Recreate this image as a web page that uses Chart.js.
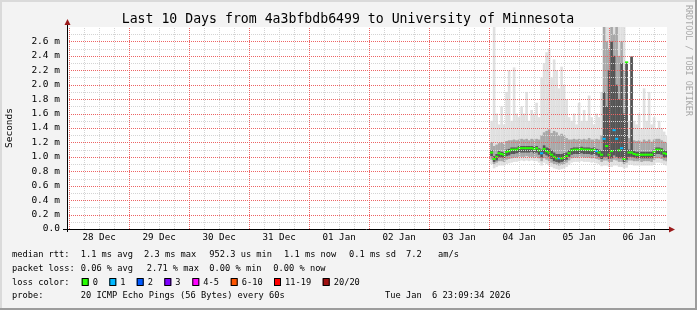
<!DOCTYPE html>
<html>
<head>
<meta charset="utf-8">
<script src="https://cdn.jsdelivr.net/npm/chart.js@4.4.1/dist/chart.umd.min.js"></script>
<style>
  html, body { margin: 0; padding: 0; background: #f3f3f3; }
  #wrap { width: 697px; height: 310px; }
</style>
</head>
<body>
<div id="wrap"><canvas id="c" width="697" height="310"></canvas></div>
<script>
// hours since 28 Dec 00:00 (graph ends 06 Jan 23:09:34)
const hours = [
  169,170,171,172,173,174,175,176,177,178,179,180,181,182,183,184,185,186,187,188,189,190,191,
  192,193,194,195,196,197,198,199,200,201,202,203,204,205,206,207,208,209,210,211,212,213,214,215,
  216,217,218,219,220,221,222,223,224,225,226,227,228,229,230,231,232,233,234,235,236,237,238,239
];

// median rtt in ms
const median = [
  1.06,0.97,1.00,1.05,1.04,1.03,1.07,1.08,1.10,1.10,1.10,1.12,1.12,1.12,1.12,1.12,1.12,1.11,1.12,1.09,1.05,1.11,1.08,
  1.06,1.03,1.00,0.98,0.98,0.98,0.99,1.01,1.05,1.09,1.10,1.10,1.10,1.11,1.10,1.10,1.10,1.09,1.10,1.08,1.06,1.03,1.25,1.15,
  1.03,1.08,1.37,1.25,1.09,1.12,0.97,2.31,1.06,1.06,1.04,1.03,1.03,1.03,1.03,1.03,1.03,1.03,1.07,1.10,1.10,1.09,1.05,1.04
];

// lost pings out of 20
const lossCount = [
  0,0,0,0,0,0,0,0,0,0,0,0,0,0,0,0,0,0,0,0,1,0,0,
  0,0,0,0,1,0,0,0,0,0,0,0,0,0,0,0,0,0,0,1,0,0,1,0,
  0,0,1,1,0,1,0,0,0,0,0,0,0,0,0,0,0,0,0,0,0,0,0,0
];

// smoke: outer range (min..max ping)
const pingMin = [
  0.90,0.84,0.86,0.88,0.88,0.88,0.90,0.91,0.92,0.93,0.93,0.94,0.95,0.94,0.95,0.94,0.95,0.94,0.94,0.92,0.88,0.92,0.90,
  0.88,0.86,0.84,0.83,0.82,0.83,0.84,0.86,0.89,0.92,0.93,0.93,0.93,0.94,0.93,0.93,0.93,0.92,0.93,0.91,0.90,0.87,0.88,0.88,
  0.86,0.86,0.88,0.88,0.86,0.86,0.84,0.85,0.89,0.89,0.88,0.88,0.88,0.88,0.88,0.88,0.88,0.88,0.90,0.92,0.92,0.91,0.89,0.88
];
const pingMax = [
  1.50,2.80,1.60,1.45,1.70,1.45,1.90,2.20,1.50,2.24,1.60,1.55,1.70,1.60,1.90,1.50,1.65,1.60,1.75,1.55,2.10,2.30,2.45,
  2.50,2.10,2.35,2.20,1.95,2.25,2.00,1.80,1.55,1.50,1.60,1.45,1.75,1.50,1.65,1.50,1.85,1.55,1.45,1.60,1.55,1.90,2.80,2.80,
  2.80,2.80,2.80,2.80,2.80,2.80,2.80,2.31,1.50,2.39,1.50,1.45,1.60,1.40,1.95,1.50,1.90,1.45,1.55,1.40,1.50,1.40,1.35,1.30
];

// smoke: middle band
const bandLow = [
  0.96,0.90,0.92,0.94,0.94,0.93,0.96,0.97,0.98,0.99,0.99,1.00,1.00,1.00,1.01,1.00,1.00,0.99,1.00,0.98,0.94,0.98,0.96,
  0.94,0.92,0.90,0.89,0.88,0.89,0.90,0.92,0.95,0.98,0.99,0.99,0.99,1.00,0.99,0.99,0.99,0.98,0.99,0.97,0.96,0.93,0.95,0.95,
  0.93,0.93,0.96,0.95,0.93,0.93,0.90,0.92,0.95,0.95,0.94,0.94,0.94,0.93,0.94,0.94,0.94,0.93,0.96,0.98,0.98,0.97,0.95,0.94
];
const bandHigh = [
  1.20,1.15,1.17,1.19,1.20,1.18,1.22,1.23,1.23,1.24,1.23,1.24,1.25,1.24,1.25,1.23,1.25,1.24,1.25,1.24,1.30,1.34,1.36,
  1.38,1.33,1.36,1.34,1.30,1.32,1.30,1.26,1.24,1.24,1.25,1.24,1.25,1.24,1.25,1.24,1.26,1.24,1.24,1.25,1.24,1.30,2.80,2.60,
  2.50,2.80,2.70,2.80,2.40,2.60,2.20,2.31,1.26,2.39,1.23,1.22,1.23,1.21,1.24,1.22,1.24,1.21,1.24,1.25,1.25,1.23,1.21,1.20
];

// smoke: dark core around the median
const coreLow = [
  1.01,0.93,0.95,0.99,0.99,0.98,1.01,1.02,1.04,1.04,1.05,1.06,1.06,1.06,1.06,1.06,1.07,1.05,1.06,1.03,0.99,1.04,1.02,
  1.00,0.97,0.94,0.93,0.92,0.93,0.94,0.96,1.00,1.03,1.04,1.04,1.04,1.05,1.04,1.04,1.04,1.03,1.04,1.02,1.00,0.97,1.00,1.00,
  0.97,0.98,1.02,1.00,0.98,0.98,0.93,0.96,1.00,1.00,0.99,0.98,0.98,0.98,0.98,0.98,0.98,0.98,1.01,1.04,1.04,1.03,0.99,0.99
];
const coreHigh = [
  1.09,1.01,1.04,1.08,1.07,1.06,1.10,1.11,1.13,1.13,1.13,1.15,1.15,1.15,1.15,1.15,1.15,1.14,1.15,1.12,1.10,1.16,1.13,
  1.12,1.09,1.06,1.04,1.04,1.04,1.05,1.06,1.09,1.12,1.13,1.13,1.13,1.14,1.13,1.13,1.13,1.12,1.13,1.11,1.10,1.08,1.90,1.70,
  2.20,2.60,2.40,2.00,1.80,2.30,1.60,2.31,1.10,2.39,1.08,1.07,1.07,1.07,1.07,1.07,1.07,1.07,1.10,1.13,1.13,1.12,1.09,1.08
];

const dayLabels = ['28 Dec','29 Dec','30 Dec','31 Dec','01 Jan','02 Jan','03 Jan','04 Jan','05 Jan','06 Jan'];
// x grid every 6 hours, y grid every 0.1 ms
const xTicks = [0,6,12,18,24,30,36,42,48,54,60,66,72,78,84,90,96,102,108,114,120,126,132,138,144,150,156,162,
  168,174,180,186,192,198,204,210,216,222,228,234];
const yTicks = [0,0.1,0.2,0.3,0.4,0.5,0.6,0.7,0.8,0.9,1.0,1.1,1.2,1.3,1.4,1.5,1.6,1.7,1.8,1.9,2.0,2.1,2.2,2.3,2.4,2.5,2.6,2.7];

const lossNames  = ['0','1','2','3','4-5','6-10','11-19','20/20'];
const lossColors = ['#26ff00','#00b8ff','#0059ff','#7e00ff','#ff00ff','#ff5500','#ff0000','#a01010'];

const MONO = '"DejaVu Sans Mono", "Liberation Mono", monospace';
const MAJOR = '#ec6464';
const MINOR = '#d4d4d4';

function range(lo, hi) {
  return hours.map((h, i) => ({ x: h, y: [lo[i], hi[i]] }));
}

function smoke(label, lo, hi, color, order) {
  return {
    type: 'bar', label, order,
    data: range(lo, hi),
    backgroundColor: color,
    borderWidth: 0,
    grouped: false,
    barPercentage: 1.05,
    categoryPercentage: 1
  };
}

// dotted rrdtool style grid on top of the smoke, minor first then major
const dottedGrid = {
  id: 'dottedGrid',
  afterDatasetsDraw(chart) {
    const { ctx, chartArea: a, scales: { x, y } } = chart;
    ctx.save();
    ctx.lineWidth = 1;
    ctx.setLineDash([1, 1]);
    [false, true].forEach(major => {
      ctx.strokeStyle = major ? MAJOR : MINOR;
      ctx.beginPath();
      xTicks.forEach(v => {
        if ((v % 24 === 0) !== major) return;
        const px = Math.round(x.getPixelForValue(v)) + 0.5;
        ctx.moveTo(px, a.bottom);
        ctx.lineTo(px, a.top);
      });
      yTicks.forEach((v, i) => {
        if (i === 0 || (i % 2 === 0) !== major) return;
        const py = Math.round(y.getPixelForValue(v)) + 0.5;
        ctx.moveTo(a.left, py);
        ctx.lineTo(a.right, py);
      });
      ctx.stroke();
    });
    ctx.restore();
  }
};

// background, frame, titles, axes and the text legend underneath
const smokepingDecor = {
  id: 'smokepingDecor',
  beforeDraw(chart) {
    const { ctx, chartArea: a } = chart;
    ctx.save();
    ctx.fillStyle = '#f3f3f3';
    ctx.fillRect(0, 0, 697, 310);
    ctx.fillStyle = '#ffffff';
    ctx.fillRect(a.left, a.top, a.right - a.left, a.bottom - a.top);
    ctx.fillStyle = '#dadada';
    ctx.fillRect(0, 0, 697, 2);
    ctx.fillRect(0, 0, 2, 310);
    ctx.fillStyle = '#9c9c9c';
    ctx.fillRect(695, 0, 2, 310);
    ctx.fillRect(0, 308, 697, 2);
    ctx.restore();
  },
  afterDraw(chart) {
    const { ctx, chartArea: a } = chart;
    ctx.save();

    // axes with arrows
    ctx.strokeStyle = '#000';
    ctx.lineWidth = 1;
    ctx.beginPath();
    ctx.moveTo(a.left - 4, a.bottom + 0.5);
    ctx.lineTo(a.right + 3, a.bottom + 0.5);
    ctx.moveTo(a.left + 0.5, a.bottom + 3);
    ctx.lineTo(a.left + 0.5, a.top - 3);
    ctx.stroke();
    ctx.fillStyle = '#9b1b1b';
    ctx.beginPath();
    ctx.moveTo(a.left + 0.5, a.top - 8);
    ctx.lineTo(a.left - 2.5, a.top - 2);
    ctx.lineTo(a.left + 3.5, a.top - 2);
    ctx.fill();
    ctx.beginPath();
    ctx.moveTo(a.right + 8, a.bottom + 0.5);
    ctx.lineTo(a.right + 2, a.bottom - 2.5);
    ctx.lineTo(a.right + 2, a.bottom + 3.5);
    ctx.fill();

    // title
    ctx.fillStyle = '#000';
    ctx.textBaseline = 'middle';
    ctx.textAlign = 'center';
    ctx.font = '13.2px ' + MONO;
    ctx.fillText('Last 10 Days from 4a3bfbdb6499 to University of Minnesota', 348, 19.5);

    // vertical axis title
    ctx.save();
    ctx.translate(10, 128);
    ctx.rotate(-Math.PI / 2);
    ctx.font = '9.5px ' + MONO;
    ctx.fillText('Seconds', 0, 0);
    ctx.restore();

    // watermark on the right
    ctx.save();
    ctx.translate(688, 5);
    ctx.rotate(Math.PI / 2);
    ctx.textAlign = 'left';
    ctx.fillStyle = '#a8a8a8';
    ctx.font = '8.4px ' + MONO;
    ctx.fillText('RRDTOOL / TOBI OETIKER', 0, 0);
    ctx.restore();

    // legend lines
    ctx.textAlign = 'left';
    ctx.fillStyle = '#000';
    ctx.font = '8.7px ' + MONO;
    const put = (txt, x, y) => ctx.fillText(txt, x, y);
    put('median rtt:', 12, 255);
    put('1.1 ms avg', 80.7, 255);
    put('2.3 ms max', 144, 255);
    put('952.3 us min', 209.3, 255);
    put('1.1 ms now', 284, 255);
    put('0.1 ms sd', 349, 255);
    put('7.2', 406, 255);
    put('am/s', 438, 255);

    put('packet loss:', 12, 268.5);
    put('0.06 % avg', 80.7, 268.5);
    put('2.71 % max', 146.7, 268.5);
    put('0.00 % min', 209.3, 268.5);
    put('0.00 % now', 273.3, 268.5);

    put('loss color:', 12, 282.5);
    const boxX = [81.7, 109.3, 136.7, 164.3, 192.3, 230.7, 274, 322.7];
    lossNames.forEach((name, i) => {
      ctx.fillStyle = lossColors[i];
      ctx.fillRect(boxX[i], 278.5, 7, 7);
      ctx.strokeStyle = '#000';
      ctx.strokeRect(boxX[i] + 0.5, 278.5, 6, 7);
      ctx.fillStyle = '#000';
      put(name, boxX[i] + 11, 282.5);
    });

    put('probe:', 12, 296);
    put('20 ICMP Echo Pings (56 Bytes) every 60s', 80.7, 296);
    put('Tue Jan  6 23:09:34 2026', 385, 296);
    ctx.restore();
  }
};

new Chart(document.getElementById('c'), {
  type: 'bar',
  data: {
    datasets: [
      {
        type: 'line', label: 'median', order: 0,
        data: hours.map((h, i) => ({ x: h, y: median[i] })),
        showLine: false,
        pointStyle: 'line',
        pointRadius: 1.6,
        pointHoverRadius: 1.6,
        pointBorderWidth: 2,
        pointBorderColor: ctx => lossColors[lossCount[ctx.dataIndex] || 0]
      },
      smoke('core', coreLow, coreHigh, '#555555', 1),
      smoke('band', bandLow, bandHigh, '#a8a8a8', 2),
      smoke('outer', pingMin, pingMax, '#e0e0e0', 3)
    ]
  },
  options: {
    responsive: false,
    devicePixelRatio: 1,
    animation: false,
    layout: { padding: { left: 0, right: 30, top: 27, bottom: 0 } },
    plugins: { legend: { display: false }, tooltip: { enabled: false }, title: { display: false } },
    scales: {
      x: {
        type: 'linear',
        offset: false,
        min: -0.84,
        max: 239.16,
        afterBuildTicks: scale => { scale.ticks = xTicks.map(v => ({ value: v })); },
        afterFit: scale => { scale.height = 81; },
        ticks: {
          autoSkip: false,
          maxRotation: 0,
          padding: 3,
          color: '#000',
          font: { family: MONO, size: 9.2 },
          callback: v => (v % 24 === 12 ? dayLabels[(v - 12) / 24] : '')
        },
        grid: { display: false, drawTicks: false },
        border: { display: false }
      },
      y: {
        min: 0,
        max: 2.8,
        afterBuildTicks: scale => { scale.ticks = yTicks.map(v => ({ value: v })); },
        afterFit: scale => { scale.width = 67; },
        ticks: {
          autoSkip: false,
          padding: 7,
          color: '#000',
          font: { family: MONO, size: 9.5 },
          callback: (v, i) => (i % 2 ? '' : (i === 0 ? '0.0' : yTicks[i].toFixed(1) + ' m'))
        },
        grid: { display: false, drawTicks: false },
        border: { display: false }
      }
    }
  },
  plugins: [dottedGrid, smokepingDecor]
});
</script>
</body>
</html>
